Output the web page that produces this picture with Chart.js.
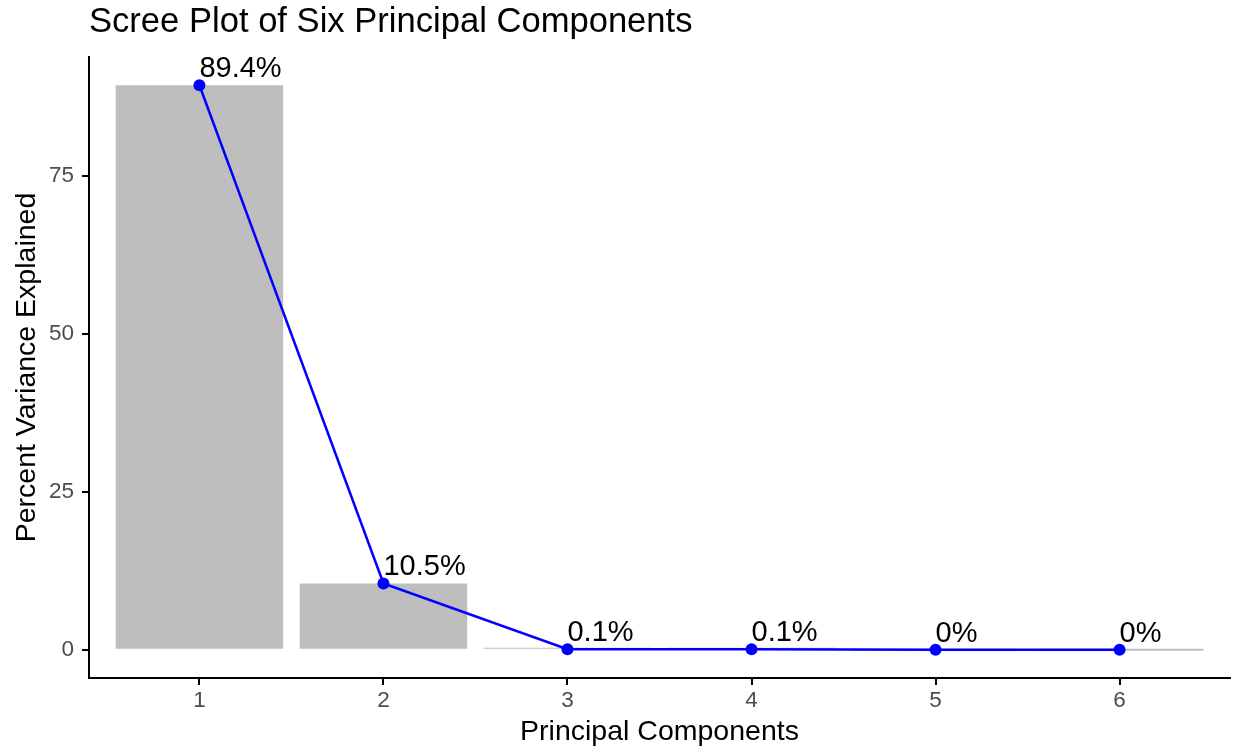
<!DOCTYPE html>
<html>
<head>
<meta charset="utf-8">
<script src="https://cdn.jsdelivr.net/npm/chart.js@4"></script>
<style>
  html, body { margin: 0; padding: 0; background: #ffffff; }
  canvas { display: block; }
</style>
</head>
<body>
<canvas id="scree" width="1236" height="748"></canvas>
<script>
// Scree plot data: share of variance carried by each principal component
const components = [1, 2, 3, 4, 5, 6];
const varianceExplained = [89.4, 10.5, 0.1, 0.1, 0, 0];
const yTickValues = [0, 25, 50, 75];
const xTickValues = [1, 2, 3, 4, 5, 6];

const chartTitle = 'Scree Plot of Six Principal Components';
const xAxisTitle = 'Principal Components';
const yAxisTitle = 'Percent Variance Explained';

const FONT = '"Liberation Sans", Arial, Helvetica, sans-serif';
Chart.defaults.font.family = FONT;

const points = components.map((c, i) => ({ x: c, y: varianceExplained[i] }));

// Percent labels written just above and to the right of each point
const pointLabels = {
  id: 'pointLabels',
  afterDatasetsDraw(chart) {
    const meta = chart.getDatasetMeta(0);
    const ctx = chart.ctx;
    ctx.save();
    ctx.font = '29px ' + FONT;
    ctx.fillStyle = '#000000';
    ctx.textAlign = 'left';
    ctx.textBaseline = 'alphabetic';
    meta.data.forEach((pt, i) => {
      ctx.fillText(varianceExplained[i] + '%', pt.x, pt.y - 8);
    });
    ctx.restore();
  }
};

new Chart(document.getElementById('scree'), {
  type: 'bar',
  data: {
    datasets: [
      {
        type: 'line',
        data: points,
        borderColor: '#0000ff',
        backgroundColor: '#0000ff',
        borderWidth: 2.5,
        pointRadius: 6,
        pointHoverRadius: 6,
        pointBorderWidth: 0,
        pointBackgroundColor: '#0000ff',
        tension: 0,
        order: 0
      },
      {
        type: 'bar',
        data: points,
        backgroundColor: '#bebebe',
        borderWidth: 0,
        barPercentage: 0.91,
        categoryPercentage: 1.0,
        minBarLength: 2,
        order: 1
      }
    ]
  },
  options: {
    responsive: false,
    animation: false,
    devicePixelRatio: 1,
    layout: { padding: { left: 0, right: 1, top: 0, bottom: 0 } },
    plugins: {
      legend: { display: false },
      tooltip: { enabled: false },
      title: {
        display: true,
        text: chartTitle,
        align: 'start',
        fullSize: false,
        color: '#000000',
        font: { size: 34.6, weight: 'normal', lineHeight: 1.2 },
        padding: { top: 2, bottom: 13.5 }
      }
    },
    scales: {
      x: {
        type: 'linear',
        min: 0.4,
        max: 6.6,
        offset: false,
        afterBuildTicks(scale) {
          scale.ticks = xTickValues.map(v => ({ value: v }));
        },
        afterFit(scale) { scale.height = 70; },
        ticks: {
          color: '#4d4d4d',
          font: { size: 22.5 },
          padding: 2,
          maxRotation: 0,
          callback: v => String(v)
        },
        grid: {
          display: true,
          drawOnChartArea: false,
          drawTicks: true,
          tickLength: 7,
          color: '#000000',
          lineWidth: 2,
          offset: false
        },
        border: { display: true, color: '#000000', width: 2 },
        title: {
          display: true,
          text: xAxisTitle,
          color: '#000000',
          font: { size: 28.5, lineHeight: 1.2 },
          padding: { top: 0, bottom: -1 }
        }
      },
      y: {
        type: 'linear',
        min: -4.47,
        max: 93.87,
        afterBuildTicks(scale) {
          scale.ticks = yTickValues.map(v => ({ value: v }));
        },
        afterFit(scale) { scale.width = 89; },
        ticks: {
          color: '#4d4d4d',
          font: { size: 22.5 },
          padding: 8,
          callback: v => String(v)
        },
        grid: {
          display: true,
          drawOnChartArea: false,
          drawTicks: true,
          tickLength: 7,
          color: '#000000',
          lineWidth: 2
        },
        border: { display: true, color: '#000000', width: 2 },
        title: {
          display: true,
          text: yAxisTitle,
          color: '#000000',
          font: { size: 28.5, lineHeight: 1.2 },
          padding: { top: 10, bottom: 0 }
        }
      }
    }
  },
  plugins: [pointLabels]
});
</script>
</body>
</html>
